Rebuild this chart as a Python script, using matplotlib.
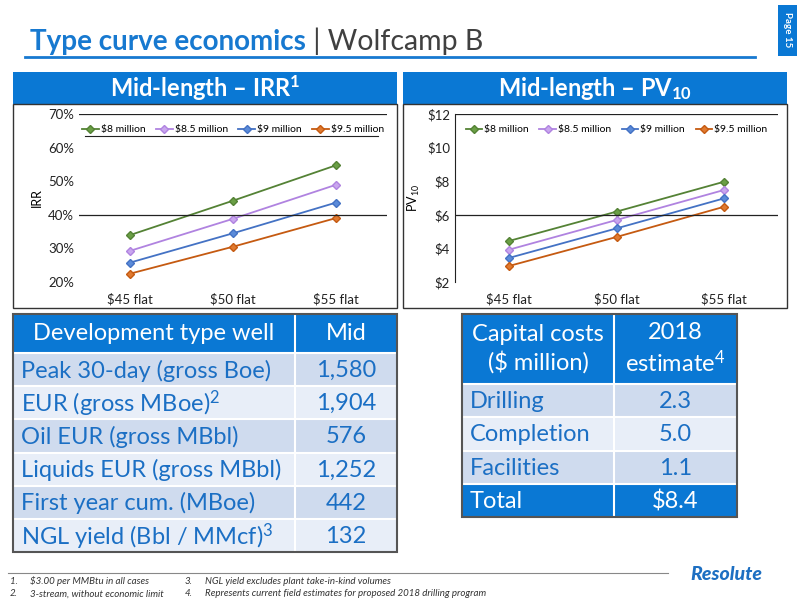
from matplotlib import pyplot as plt
from matplotlib.patches import Rectangle
import numpy as np

plt.rcParams['font.family'] = ['Lato', 'DejaVu Sans']
plt.rcParams['mathtext.fontset'] = 'custom'
plt.rcParams['mathtext.rm'] = 'Lato'
plt.rcParams['mathtext.it'] = 'Lato:italic'
plt.rcParams['mathtext.bf'] = 'Lato:bold'

# ---- data ----
price_cases = ['$45 flat', '$50 flat', '$55 flat']
well_costs = ['$8 million', '$8.5 million', '$9 million', '$9.5 million']
irr = [[34.0, 44.2, 54.7],
       [29.3, 38.8, 48.9],
       [25.8, 34.5, 43.6],
       [22.5, 30.5, 39.0]]
pv10 = [[4.44, 6.19, 7.97],
        [3.92, 5.69, 7.48],
        [3.43, 5.19, 6.98],
        [2.95, 4.68, 6.48]]

dev_labels = ['Peak 30-day (gross Boe)', 'EUR (gross MBoe)$^2$', 'Oil EUR (gross MBbl)',
              'Liquids EUR (gross MBbl)', 'First year cum. (MBoe)', 'NGL yield (Bbl / MMcf)$^3$']
dev_values = ['1,580', '1,904', '576', '1,252', '442', '132']

cap_labels = ['Drilling', 'Completion', 'Facilities']
cap_values = ['2.3', '5.0', '1.1']
cap_total = '$8.4'

footnotes = [('1.', '$3.00 per MMBtu in all cases'), ('2.', '3-stream, without economic limit'),
             ('3.', 'NGL yield excludes plant take-in-kind volumes'),
             ('4.', 'Represents current field estimates for proposed 2018 drilling program')]

# ---- styles ----
line_cols = ['#548235', '#b083e0', '#4472c4', '#c55a11']
mark_cols = ['#6a9f45', '#c9a6ee', '#5b8bd9', '#e07a30']
blue = '#0a78d4'
txt_blue = '#1b6fc4'
row_dark = '#cfdbee'
row_light = '#e8eef8'
tfs = 17  # table font size

W, H = 800, 600
fig = plt.figure(figsize=(8, 6), dpi=100)
bg = fig.add_axes((0, 0, 1, 1))
bg.set_xlim(0, W)
bg.set_ylim(H, 0)
bg.axis('off')


def px(x0, y0, x1, y1):
    return (x0 / W, 1 - y1 / H, (x1 - x0) / W, (y1 - y0) / H)


def box(x0, y0, x1, y1, fc, ec='none', lw=0, z=1):
    bg.add_patch(Rectangle((x0, y0), x1 - x0, y1 - y0, facecolor=fc, edgecolor=ec, lw=lw, zorder=z))


# title
t1 = bg.text(30, 50, 'Type curve economics', color='#1779d0', fontsize=20, fontweight='bold', va='baseline')
bg.annotate(' | Wolfcamp B', xy=(1, 0), xycoords=t1, color='#404040', fontsize=20.5, va='bottom')
bg.plot([25, 755], [57, 57], color='#1779d0', lw=2)
box(778, 5, 797, 56, blue)
bg.text(787.5, 30, 'Page 15', color='white', fontsize=7, fontweight='bold', rotation=-90, ha='center', va='center')

# chart panels
for (x0, x1, title) in [(13, 397, 'Mid-length – IRR$^\\mathbf{1}$'), (403, 787, 'Mid-length – PV$_\\mathbf{10}$')]:
    box(x0, 72, x1, 104, blue)
    box(x0, 104, x1, 308, 'white', ec='#333333', lw=1)
    bg.text((x0 + x1) / 2, 88, title, color='white', fontsize=17, fontweight='bold', ha='center', va='center')

xpos = np.arange(len(price_cases))


def chart(rect, data, ylim, yticks, fmt, grid, ylabel, left_spine):
    ax = fig.add_axes(px(*rect))
    for i, name in enumerate(well_costs):
        ax.plot(xpos, data[i], color=line_cols[i], lw=1.3, marker='D', ms=4.5,
                mfc=mark_cols[i], mec=line_cols[i], label=name)
    ax.set_xlim(-0.5, 2.5)
    ax.set_ylim(*ylim)
    ax.set_yticks(yticks)
    ax.set_yticklabels([fmt % v for v in yticks])
    ax.set_xticks(xpos)
    ax.set_xticklabels(price_cases)
    ax.tick_params(length=0, labelsize=9.5, colors='#222222')
    ax.tick_params(axis='x', pad=8)
    for s in ['top', 'right', 'bottom', 'left']:
        ax.spines[s].set_visible(False)
    if left_spine:
        ax.spines['left'].set_visible(True)
        ax.spines['left'].set_color('#222222')
    for g in grid:
        ax.axhline(g, color='#222222', lw=0.9)
    ax.set_ylabel(ylabel, fontsize=9, labelpad=4)
    ax.legend(loc='upper center', bbox_to_anchor=(0.5, 0.99), ncol=4, frameon=False, fontsize=7.5,
              handlelength=1.6, columnspacing=1.0, handletextpad=0.2)
    ax.patch.set_alpha(0)
    return ax


ax1 = chart((79, 114, 387, 282), irr, (20, 70), np.arange(20, 71, 10), '%d%%', [40, 70], 'IRR', False)
ax2 = chart((455, 114, 778, 282), pv10, (2, 12), np.arange(2, 13, 2), '$%d', [6, 12], 'PV$_{10}$', True)
bg.plot([85, 378], [136, 136], color='#222222', lw=0.8)

# development table
tx0, tx1, tdiv = 13, 397, 295
box(tx0, 314, tx1, 353, blue)
bg.text((tx0 + tdiv) / 2, 334, 'Development type well', color='white', fontsize=tfs, ha='center', va='center')
bg.text((tdiv + tx1) / 2, 334, 'Mid', color='white', fontsize=tfs, ha='center', va='center')
row_h = (552 - 353) / len(dev_labels)
for i, (lab, val) in enumerate(zip(dev_labels, dev_values)):
    y0 = 353 + i * row_h
    box(tx0, y0, tx1, y0 + row_h, row_dark if i % 2 == 0 else row_light)
    bg.text(21, y0 + row_h / 2 + 1, lab, color=txt_blue, fontsize=tfs, va='center')
    bg.text((tdiv + tx1) / 2, y0 + row_h / 2 + 1, val, color=txt_blue, fontsize=tfs, ha='center', va='center')
    bg.plot([tx0, tx1], [y0, y0], color='white', lw=1.5, zorder=2)
bg.plot([tdiv, tdiv], [314, 552], color='white', lw=1.5, zorder=2)
box(tx0, 314, tx1, 552, 'none', ec='#555555', lw=1.5, z=3)

# capital cost table
cx0, cx1, cdiv = 462, 737, 614
box(cx0, 314, cx1, 384, blue)
bg.text((cx0 + cdiv) / 2, 349, 'Capital costs\n($ million)', color='white', fontsize=tfs, ha='center', va='center',
        linespacing=1.3)
bg.text((cdiv + cx1) / 2, 349, '2018\nestimate$^4$', color='white', fontsize=tfs, ha='center', va='center',
        linespacing=1.3)
crow_h = (517 - 384) / (len(cap_labels) + 1)
for i, (lab, val) in enumerate(zip(cap_labels, cap_values)):
    y0 = 384 + i * crow_h
    box(cx0, y0, cx1, y0 + crow_h, row_dark if i % 2 == 0 else row_light)
    bg.text(470, y0 + crow_h / 2 + 1, lab, color=txt_blue, fontsize=tfs, va='center')
    bg.text((cdiv + cx1) / 2, y0 + crow_h / 2 + 1, val, color=txt_blue, fontsize=tfs, ha='center', va='center')
    bg.plot([cx0, cx1], [y0, y0], color='white', lw=1.5, zorder=2)
y0 = 384 + len(cap_labels) * crow_h
box(cx0, y0, cx1, 517, blue)
bg.plot([cx0, cx1], [y0, y0], color='white', lw=1.5, zorder=2)
bg.text(470, y0 + crow_h / 2 + 1, 'Total', color='white', fontsize=tfs, va='center')
bg.text((cdiv + cx1) / 2, y0 + crow_h / 2 + 1, cap_total, color='white', fontsize=tfs, ha='center', va='center')
bg.plot([cdiv, cdiv], [314, 517], color='white', lw=1.5, zorder=2)
box(cx0, 314, cx1, 517, 'none', ec='#555555', lw=1.5, z=3)

# footnotes
bg.plot([8, 668], [573, 573], color='#888888', lw=0.8)
fpos = [(10, 30, 580), (10, 30, 593), (185, 205, 580), (185, 205, 593)]
for (num, note), (xn, xt, yy) in zip(footnotes, fpos):
    bg.text(xn, yy + 1, num, fontsize=7, style='italic', color='#333333', va='center')
    bg.text(xt, yy + 1, note, fontsize=7, style='italic', color='#333333', va='center')
bg.text(726, 575, 'Resolute', fontsize=14, fontweight='black', style='italic', color='#1d6fc2',
        ha='center', va='center')

fig.savefig('out.png', dpi=100)
